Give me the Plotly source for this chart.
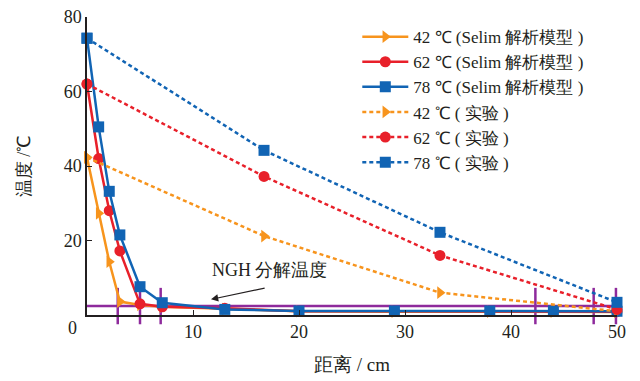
import plotly.graph_objects as go

# ---- data ----
model_x = [0, 1.1, 2.1, 3.1, 5.0, 7.1, 13, 20, 29, 38, 44, 50]
model_42 = [42.3, 27.3, 14.3, 3.6, 2.7, 2.2, 1.6, 1.0, 0.9, 0.9, 0.9, 0.8]
model_62 = [62.0, 42.0, 28.0, 17.2, 3.0, 2.2, 1.8, 1.0, 1.0, 1.0, 1.0, 0.9]
model_78 = [74.3, 50.5, 33.2, 21.5, 7.6, 3.3, 1.5, 1.1, 1.1, 1.1, 1.1, 1.0]

exp_x = [0, 16.7, 33.3, 50]
exp_42 = [42.3, 21.2, 6.0, 1.0]
exp_62 = [62.0, 37.2, 16.0, 1.5]
exp_78 = [74.3, 44.2, 22.2, 3.4]

ngh_temp = 2.4
ngh_x = [2.9, 5.0, 6.95, 42.3, 47.8, 49.9]

labels_model = ["42 ℃ (Selim 解析模型 )", "62 ℃ (Selim 解析模型 )", "78 ℃ (Selim 解析模型 )"]
labels_exp = ["42 ℃ ( 实验 )", "62 ℃ ( 实验 )", "78 ℃ ( 实验 )"]

ORANGE = "#F7941D"
RED = "#E8202A"
BLUE = "#1164B4"
PURPLE = "#8E2A9C"
FONT = "Liberation Serif"

colors = [ORANGE, RED, BLUE]
symbols = ["triangle-right", "circle", "square"]

fig = go.Figure()

# NGH decomposition line
fig.add_trace(go.Scatter(x=[0, 50], y=[ngh_temp, ngh_temp], mode="lines",
                         line=dict(color=PURPLE, width=2.5), showlegend=False,
                         cliponaxis=False, hoverinfo="skip"))
fig.add_trace(go.Scatter(x=ngh_x, y=[ngh_temp] * len(ngh_x), mode="markers",
                         marker=dict(symbol="line-ns", size=26,
                                     line=dict(color=PURPLE, width=2.5)),
                         showlegend=False, cliponaxis=False, hoverinfo="skip"))

for ys, c, s, lab in zip([model_42, model_62, model_78], colors, symbols, labels_model):
    fig.add_trace(go.Scatter(x=model_x, y=ys, mode="lines+markers", name=lab,
                             line=dict(color=c, width=2.5),
                             marker=dict(symbol=s, size=11, color=c),
                             cliponaxis=False))

for ys, c, s, lab in zip([exp_42, exp_62, exp_78], colors, symbols, labels_exp):
    fig.add_trace(go.Scatter(x=exp_x, y=ys, mode="lines+markers", name=lab,
                             line=dict(color=c, width=2.5, dash="4px,3px"),
                             marker=dict(symbol=s, size=11, color=c),
                             cliponaxis=False))

fig.update_layout(
    width=640, height=381,
    margin=dict(l=87, r=23, t=17, b=66),
    plot_bgcolor="white", paper_bgcolor="white",
    font=dict(family=FONT, size=18, color="#231F20"),
    showlegend=True,
    legend=dict(x=0.51, y=0.993, xanchor="left", yanchor="top",
                bgcolor="rgba(0,0,0,0)", font=dict(size=17, family=FONT),
                itemwidth=46, tracegroupgap=0, itemsizing="trace"),
    xaxis=dict(range=[0, 50], tickvals=[10, 20, 30, 40, 50], ticks="inside",
               ticklen=5, tickcolor="#231F20", showline=True, linecolor="#231F20",
               linewidth=1.5, showgrid=False, zeroline=False, automargin=False,
               title=dict(text="距离 / cm", font=dict(size=19), standoff=16)),
    yaxis=dict(range=[0, 80], tickvals=[20, 40, 60, 80], ticks="inside",
               ticklen=5, tickcolor="#231F20", showline=True, linecolor="#231F20",
               linewidth=1.5, showgrid=False, zeroline=False, automargin=False,
               title=dict(text="温度 /℃", font=dict(size=18), standoff=28)),
    annotations=[
        dict(text="0", xref="paper", yref="paper", x=-0.027, y=-0.005,
             showarrow=False, font=dict(size=18), xanchor="center", yanchor="top"),
        dict(text="NGH 分解温度", x=17.3, y=12.1, xref="x", yref="y",
             showarrow=False, font=dict(size=18)),
        dict(text="", x=11.7, y=4.2, xref="x", yref="y", ax=16.9, ay=7.3,
             axref="x", ayref="y", showarrow=True, arrowhead=2, arrowsize=1.2,
             arrowwidth=1.2, arrowcolor="#231F20"),
    ],
)

fig.write_html("out.html")
